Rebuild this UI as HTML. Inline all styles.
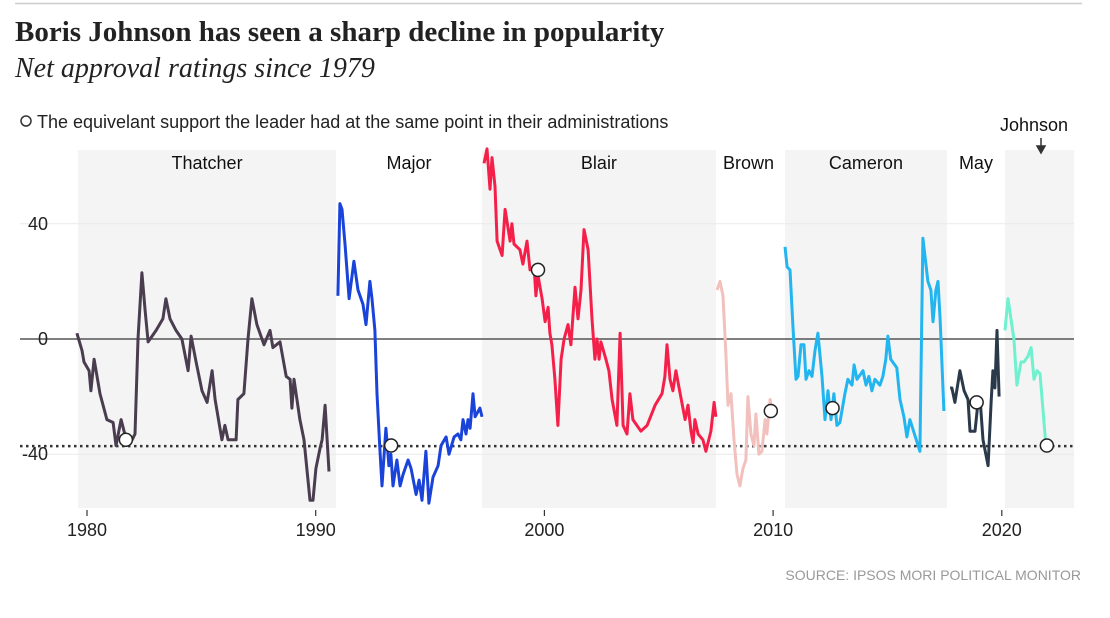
<!DOCTYPE html>
<html><head><meta charset="utf-8"><style>
body{margin:0;background:#fff;width:1110px;height:618px;overflow:hidden;font-family:"Liberation Sans",sans-serif}
svg{position:absolute;left:0;top:0}
</style></head><body>
<svg width="1110" height="618" id="chart">
<line x1="15" y1="3.5" x2="1082" y2="3.5" stroke="#ccc" stroke-width="1.5"/>
<text x="15" y="41" font-family="Liberation Serif" font-weight="bold" font-size="29" fill="#222">Boris Johnson has seen a sharp decline in popularity</text>
<text x="15" y="77" font-family="Liberation Serif" font-style="italic" font-size="28" fill="#222">Net approval ratings since 1979</text>
<circle cx="26" cy="121" r="5" fill="#fff" stroke="#333" stroke-width="1.5"/>
<text x="37" y="128" font-family="Liberation Sans Narrow,Liberation Sans" font-size="18" fill="#222">The equivelant support the leader had at the same point in their administrations</text>
<g id="bands"></g><g id="grid"></g><g id="lines"></g><g id="marks"></g><g id="labels"></g>
<text x="1081" y="580" text-anchor="end" font-family="Liberation Sans Narrow,Liberation Sans" font-size="14" fill="#999">SOURCE: IPSOS MORI POLITICAL MONITOR</text>
</svg>
<script>
const leaders=["Thatcher","Major","Blair","Brown","Cameron","May","Johnson"];
const colors=["#4a3d4f","#1a44d9","#f5204a","#f2c0bd","#22b5ef","#2b3a4a","#6ff0cf"];
const termStart=[1979.61,1990.89,1997.27,2007.5,2010.52,2017.6,2020.14];
const termEnd=[1990.89,1997.27,2007.5,2010.52,2017.6,2020.14,2023.16];
const shaded=[true,false,true,false,true,false,true];
const yTicks=[40,0,-40];
const xTicks=[1980,1990,2000,2010,2020];
const thatcherYears=[1979.56,1979.78,1979.87,1980.09,1980.17,1980.31,1980.57,1980.87,1981.14,1981.27,1981.49,1981.75,1981.97,1982.1,1982.23,1982.4,1982.54,1982.67,1983.02,1983.32,1983.45,1983.63,1983.89,1984.15,1984.42,1984.55,1984.77,1985.03,1985.25,1985.47,1985.6,1985.9,1986.03,1986.17,1986.52,1986.6,1986.86,1987.04,1987.21,1987.43,1987.74,1988.0,1988.13,1988.44,1988.71,1988.88,1988.96,1989.05,1989.31,1989.49,1989.75,1989.88,1990.01,1990.19,1990.28,1990.41,1990.58];
const thatcherValues=[2,-4,-8,-11,-18,-7,-19,-28,-29,-37,-28,-36,-35,-33,0,23,10,-1,3,7,14,7,3,0,-11,1,-8,-18,-22,-11,-21,-35,-30,-35,-35,-21,-19,0,14,5,-2,3,-3,-1,-13,-14,-24,-14,-28,-35,-56,-56,-45,-38,-35,-23,-46];
const majorYears=[1990.97,1991.06,1991.15,1991.28,1991.46,1991.67,1991.85,1992.07,1992.2,1992.37,1992.46,1992.59,1992.68,1992.81,1992.9,1993.07,1993.2,1993.29,1993.38,1993.55,1993.69,1993.82,1994.04,1994.17,1994.39,1994.52,1994.65,1994.82,1994.95,1995.13,1995.35,1995.48,1995.7,1995.83,1996.05,1996.22,1996.35,1996.44,1996.57,1996.66,1996.75,1996.88,1996.97,1997.18,1997.27];
const majorValues=[15,47,45,33,14,27,17,12,5,20,14,3,-19,-39,-51,-31,-44,-40,-51,-42,-51,-47,-42,-45,-54,-49,-56,-39,-57,-48,-44,-37,-34,-40,-34,-33,-35,-28,-33,-28,-31,-19,-27,-24,-27];
const blairYears=[1997.36,1997.49,1997.62,1997.71,1997.84,1997.93,1998.15,1998.28,1998.5,1998.58,1998.67,1998.93,1999.06,1999.24,1999.37,1999.55,1999.63,1999.72,1999.9,2000.03,2000.16,2000.24,2000.33,2000.46,2000.59,2000.73,2000.86,2001.03,2001.16,2001.34,2001.47,2001.6,2001.73,2001.91,2002.08,2002.21,2002.3,2002.39,2002.47,2002.69,2002.82,2002.96,2003.17,2003.31,2003.44,2003.61,2003.74,2003.87,2004.22,2004.49,2004.84,2005.14,2005.27,2005.36,2005.49,2005.62,2005.75,2005.89,2006.15,2006.28,2006.41,2006.5,2006.58,2006.72,2006.93,2007.06,2007.28,2007.42,2007.5];
const blairValues=[61,66,52,63,53,34,29,45,34,40,33,31,26,34,24,25,15,22,14,6,11,2,-2,-14,-30,-7,0,5,-2,18,7,17,38,31,7,-7,0,-7,-1,-7,-11,-21,-30,2,-30,-33,-19,-28,-32,-30,-23,-19,-13,-2,-14,-18,-11,-17,-28,-23,-32,-36,-28,-33,-35,-39,-32,-22,-27];
const brownYears=[2007.55,2007.68,2007.81,2007.94,2008.03,2008.16,2008.29,2008.42,2008.55,2008.68,2008.81,2008.9,2009.03,2009.16,2009.25,2009.38,2009.51,2009.65,2009.73,2009.87,2009.95];
const brownValues=[17,20,15,-6,-23,-19,-35,-47,-51,-45,-42,-20,-33,-37,-26,-40,-39,-28,-33,-21,-25];
const cameronYears=[2010.52,2010.61,2010.74,2010.87,2011.0,2011.09,2011.22,2011.35,2011.44,2011.57,2011.7,2011.83,2011.96,2012.14,2012.27,2012.4,2012.53,2012.66,2012.79,2012.92,2013.14,2013.27,2013.45,2013.54,2013.67,2013.93,2014.06,2014.19,2014.32,2014.45,2014.67,2014.8,2014.93,2015.02,2015.14,2015.41,2015.55,2015.72,2015.85,2015.98,2016.42,2016.55,2016.77,2016.9,2016.99,2017.12,2017.21,2017.3,2017.47];
const cameronValues=[32,25,24,4,-14,-13,-2,-2,-14,-11,-13,-4,2,-13,-28,-18,-28,-19,-30,-29,-19,-14,-16,-9,-14,-11,-16,-13,-18,-14,-16,-13,-7,1,-7,-10,-21,-27,-34,-28,-39,35,20,17,6,17,20,7,-25];
const mayYears=[2017.74,2017.82,2017.95,2018.17,2018.35,2018.52,2018.61,2018.83,2018.96,2019.05,2019.18,2019.4,2019.53,2019.61,2019.7,2019.79,2019.88];
const mayValues=[-17,-17,-22,-11,-18,-21,-32,-32,-22,-21,-35,-44,-22,-11,-17,3,-20];
const johnsonYears=[2020.14,2020.27,2020.53,2020.66,2020.84,2020.97,2021.14,2021.28,2021.41,2021.54,2021.67,2021.93];
const johnsonValues=[3,14,0,-16,-8,-8,-6,-3,-14,-11,-12,-37];
const markerYears=[1981.7,1993.3,1999.72,2009.9,2012.6,2018.9,2021.97];
const markerValues=[-35,-37,24,-25,-24,-22,-37];
const benchmark=-37.2;

const X=y=>87+(y-1980)*22.87;
const Y=v=>339-v*2.88;
const NS="http://www.w3.org/2000/svg";
function mk(tag,attrs,parent,txt){const e=document.createElementNS(NS,tag);for(const k in attrs)e.setAttribute(k,attrs[k]);if(txt!==undefined)e.textContent=txt;document.getElementById(parent).appendChild(e);return e;}
const plotTop=150,plotBot=508;
leaders.forEach((n,i)=>{
  if(shaded[i]){const r=mk('rect',{x:X(termStart[i]),y:plotTop,width:X(termEnd[i])-X(termStart[i]),height:plotBot-plotTop,fill:'#f4f4f4'},'bands');
  
  }
  const cx=n==="Johnson"?1034:(X(termStart[i])+X(termEnd[i]))/2+(n==="Brown"?-2:0);
  const ly=n==="Johnson"?131:169;
  const t=mk('text',{x:cx,y:ly,'text-anchor':'middle','font-family':'Liberation Sans Narrow,Liberation Sans','font-size':'18',fill:'#111'},'labels',n);
  
  
});
const ar=mk('path',{d:'M1041 138 L1041 148 M1037 146 L1041 153 L1045 146 Z',stroke:'#333','stroke-width':1.5,fill:'#333'},'labels');


yTicks.forEach(v=>{
  const l=mk('line',{x1:20,x2:1074,y1:Y(v),y2:Y(v),stroke:v===0?'#555':'#eaeaea','stroke-width':v===0?1.5:1},'grid');
  
  
  const t=mk('text',{x:48,y:Y(v)+6,'text-anchor':'end','font-family':'Liberation Sans Narrow,Liberation Sans','font-size':'18',fill:'#222'},'grid',v);
  
  
});
xTicks.forEach(y=>{
  const l=mk('line',{x1:X(y),x2:X(y),y1:510,y2:516,stroke:'#333','stroke-width':1.2},'grid');
  
  
  const t=mk('text',{x:X(y),y:536,'text-anchor':'middle','font-family':'Liberation Sans Narrow,Liberation Sans','font-size':'18',fill:'#222'},'grid',y);
  
  
});
const bl=mk('line',{x1:20,x2:1074,y1:Y(benchmark),y2:Y(benchmark),stroke:'#333','stroke-width':2.5,'stroke-dasharray':'2.5 3.5'},'grid');


const series=[[thatcherYears,thatcherValues],[majorYears,majorValues],[blairYears,blairValues],[brownYears,brownValues],[cameronYears,cameronValues],[mayYears,mayValues],[johnsonYears,johnsonValues]];
series.forEach((s,i)=>{
  const d=s[0].map((y,k)=>(k?'L':'M')+X(y).toFixed(1)+' '+Y(s[1][k]).toFixed(1)).join(' ');
  const p=mk('path',{d:d,fill:'none',stroke:colors[i],'stroke-width':3,'stroke-linejoin':'round'},'lines');
  
  
});
markerYears.forEach((y,i)=>{
  const c=mk('circle',{cx:X(y),cy:Y(markerValues[i]),r:6.5,fill:'#fff',stroke:'#222','stroke-width':1.5},'marks');
  
  
});
</script>
</body></html>
